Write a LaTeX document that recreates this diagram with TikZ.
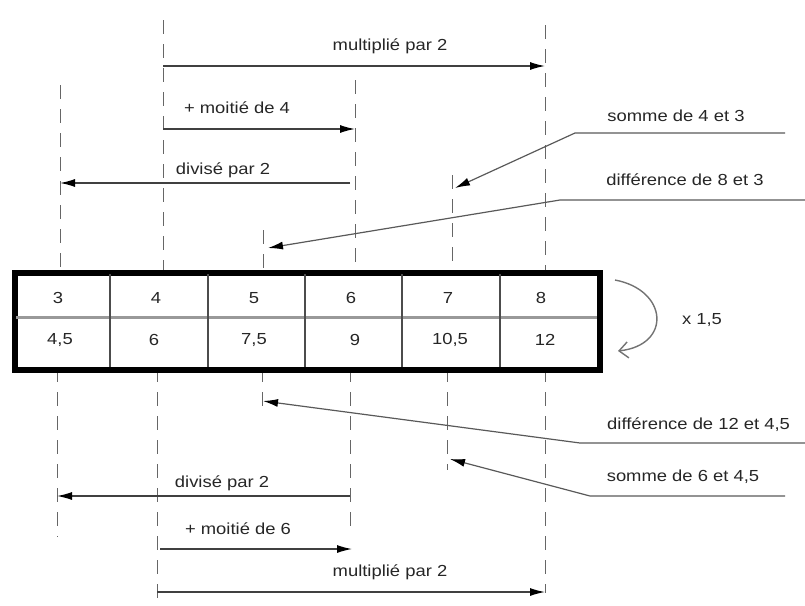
\documentclass[tikz,border=0pt]{standalone}
\usepackage{fontspec}
\setmainfont[FakeStretch=1.15]{Liberation Sans}
\usetikzlibrary{arrows.meta}
\begin{document}
\begin{tikzpicture}[x=1pt,y=-1pt,
  guide/.style={draw=black!60, line width=1pt, dash pattern=on 14pt off 10pt},
  arr/.style={draw=black!75, line width=1.3pt, -{Latex[length=15pt,width=8pt,color=black]}},
  callout/.style={draw=black!65, line width=1.2pt, -{Latex[length=15pt,width=8pt,color=black]}},
  lbl/.style={font=\fontsize{16}{19}\selectfont, text=black!85, inner sep=0pt},
  num/.style={font=\fontsize{16}{19}\selectfont, text=black!85, inner sep=0pt},
  pt/.style={inner sep=0pt, minimum size=0pt}
]
\useasboundingbox (0,0) rectangle (805,605);

% guide coordinates (top)
\coordinate (t1a) at (60,85);   \coordinate (t1b) at (60,272);
\coordinate (t2a) at (163,20);  \coordinate (t2b) at (163,272);
\coordinate (t3a) at (263,230); \coordinate (t3b) at (263,272);
\coordinate (t4a) at (355,80);  \coordinate (t4b) at (355,272);
\coordinate (t5a) at (452,175); \coordinate (t5b) at (452,272);
\coordinate (t6a) at (545,25);  \coordinate (t6b) at (545,272);
% guide coordinates (bottom)
\coordinate (b1a) at (57,368);  \coordinate (b1b) at (57,537);
\coordinate (b2a) at (157,368); \coordinate (b2b) at (157,600);
\coordinate (b3a) at (262,368); \coordinate (b3b) at (262,410);
\coordinate (b4a) at (350,368); \coordinate (b4b) at (350,533);
\coordinate (b5a) at (447,368); \coordinate (b5b) at (447,470);
\coordinate (b6a) at (545,368); \coordinate (b6b) at (545,593);

\foreach \g in {t1,t2,t3,t4,t5,t6,b1,b2,b3,b4,b5,b6}
  \draw[guide] (\g a) -- (\g b);

% table
\node[pt, draw=black, line width=4pt, fill=white, minimum width=583pt, minimum height=95pt, anchor=north west] (table) at (14,272) {};
\draw[black!40, line width=3pt] (14,317) -- (597,317);
\foreach \x in {110,208,305,402,500}
  \draw[black!70, line width=1.2pt] (\x,272) -- (\x,367);
\draw[black, line width=4pt] (table.north west) rectangle (table.south east);

\node[num] (c1) at (58,298) {3};
\node[num] (c2) at (156,298) {4};
\node[num] (c3) at (254,298) {5};
\node[num] (c4) at (351,298) {6};
\node[num] (c5) at (448,298) {7};
\node[num] (c6) at (541,298) {8};
\node[num] (d1) at (60,340) {4,5};
\node[num] (d2) at (154,340) {6};
\node[num] (d3) at (254,340) {7,5};
\node[num] (d4) at (355,340) {9};
\node[num] (d5) at (450,340) {10,5};
\node[num] (d6) at (545,340) {12};

% top arrows
\coordinate (a1s) at (163,66);  \coordinate (a1e) at (545,66);
\coordinate (a2s) at (163,129); \coordinate (a2e) at (355,129);
\coordinate (a3s) at (350,183); \coordinate (a3e) at (60,183);
\draw[arr] (a1s) -- (a1e);
\draw[arr] (a2s) -- (a2e);
\draw[arr] (a3s) -- (a3e);
\node[lbl] (l1) at (390,46) {multiplié par 2};
\node[lbl] (l2) at (237,108) {+ moitié de 4};
\node[lbl] (l3) at (223,170) {divisé par 2};

% bottom arrows
\coordinate (a4s) at (350,496); \coordinate (a4e) at (57,496);
\coordinate (a5s) at (160,549); \coordinate (a5e) at (352,549);
\coordinate (a6s) at (157,592); \coordinate (a6e) at (545,592);
\draw[arr] (a4s) -- (a4e);
\draw[arr] (a5s) -- (a5e);
\draw[arr] (a6s) -- (a6e);
\node[lbl] (l4) at (222,483) {divisé par 2};
\node[lbl] (l5) at (238,529) {+ moitié de 6};
\node[lbl] (l6) at (390,572) {multiplié par 2};

% callouts
\node[lbl] (s1) at (676,116) {somme de 4 et 3};
\coordinate (s1a) at (785,133); \coordinate (s1b) at (575,133); \coordinate (s1c) at (455,188);
\draw[callout] (s1a) -- (s1b) -- (s1c);

\node[lbl] (s2) at (685,180) {différence de 8 et 3};
\coordinate (s2a) at (805,200); \coordinate (s2b) at (560,200); \coordinate (s2c) at (268,248);
\draw[callout] (s2a) -- (s2b) -- (s2c);

\node[lbl, anchor=west] (s3) at (607,425) {différence de 12 et 4,5};
\coordinate (s3a) at (805,443); \coordinate (s3b) at (580,443); \coordinate (s3c) at (263,401);
\draw[callout] (s3a) -- (s3b) -- (s3c);

\node[lbl] (s4) at (683,477) {somme de 6 et 4,5};
\coordinate (s4a) at (785,496); \coordinate (s4b) at (590,496); \coordinate (s4c) at (450,459);
\draw[callout] (s4a) -- (s4b) -- (s4c);

% x 1,5 curved arrow
\coordinate (k1) at (615,280);
\coordinate (k2) at (618,351);
\draw[black!55, line width=1.4pt, -{Straight Barb[length=9pt,width=16pt]}] (k1) .. controls (668,290) and (672,345) .. (k2);
\node[lbl] (k) at (702,320) {x 1,5};
\end{tikzpicture}
\end{document}
